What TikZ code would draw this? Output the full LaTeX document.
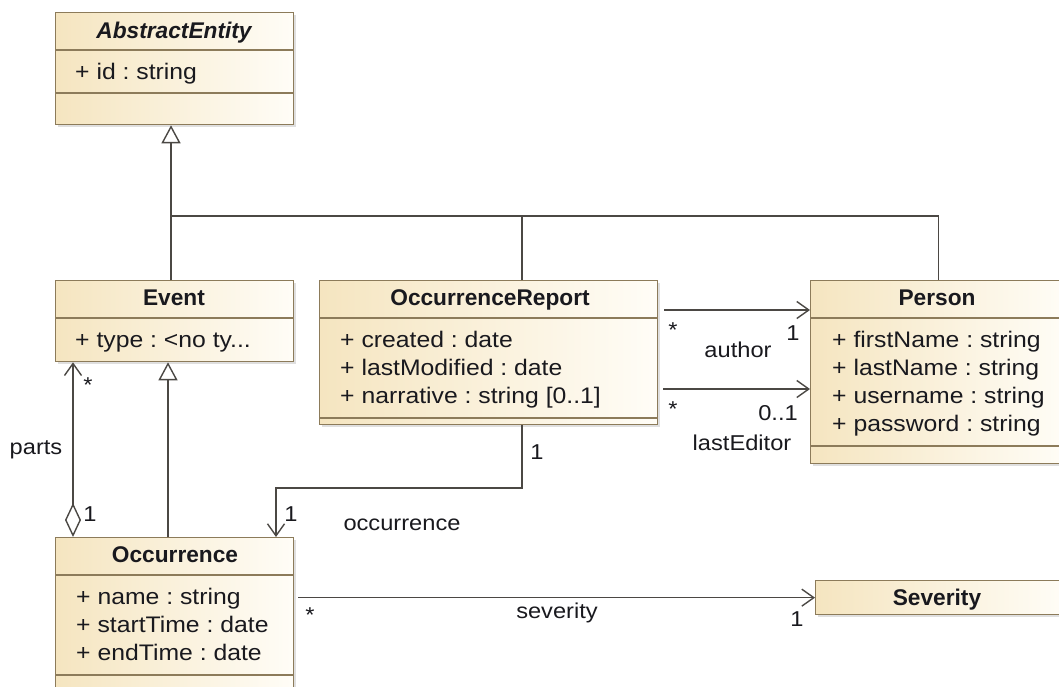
\documentclass[tikz,border=0pt]{standalone}
\usepackage{fontspec}
\setmainfont{Liberation Sans}
\newfontfamily\widefont{Liberation Sans}[FakeStretch=1.1]
\frenchspacing
\usetikzlibrary{arrows.meta,shadows}

\definecolor{clsleft}{RGB}{245,229,192}
\definecolor{clsright}{RGB}{255,253,247}
\definecolor{clsborder}{RGB}{140,123,90}
\definecolor{linegray}{RGB}{75,72,68}
\definecolor{txt}{RGB}{25,25,30}

\tikzset{
  umlclass/.style={draw=clsborder, line width=1.3pt, left color=clsleft, right color=clsright,
    anchor=north west, inner sep=0pt,
    drop shadow={shadow xshift=2.5pt, shadow yshift=-2.5pt, opacity=0.25}},
  cname/.style={font=\fontsize{22.7}{26}\selectfont\bfseries, text=txt, anchor=base, inner sep=0pt},
  attr/.style={font=\widefont\fontsize{22.5}{26}\selectfont, text=txt, anchor=base west, inner sep=0pt},
  lbl/.style={font=\widefont\fontsize{21.5}{25}\selectfont, text=txt, inner sep=0pt},
  sep/.style={draw=clsborder, line width=1.3pt},
  assoc/.style={draw=linegray, line width=1.4pt},
  gen/.style={assoc, -{Triangle[open, length=18pt, width=19pt]}},
  nav/.style={assoc, -{Straight Barb[length=12pt, width=17pt]}},
}

\begin{document}
\begin{tikzpicture}[x=1pt, y=-1pt]
  \useasboundingbox (0,0) rectangle (1059,687);
  \clip (0,0) rectangle (1059,687);

  % classes
  \node[umlclass, minimum width=238pt, minimum height=112pt] (abstract) at (55,12) {};
  \draw[sep] (55,50) -- (293,50);
  \draw[sep] (55,93) -- (293,93);
  \node[cname, font=\fontsize{22.7}{26}\selectfont\bfseries\itshape] (abstractT) at (174,39) {AbstractEntity};
  \node[attr] (abstractA) at (75,80) {+ id : string};

  \node[umlclass, minimum width=238pt, minimum height=81pt] (event) at (55,280) {};
  \draw[sep] (55,318) -- (293,318);
  \node[cname] (eventT) at (174,305) {Event};
  \node[attr] (eventA) at (75,347) {+ type : <no ty...};

  \node[umlclass, minimum width=338pt, minimum height=144pt] (report) at (319,280) {};
  \draw[sep] (319,318) -- (657,318);
  \draw[sep] (319,418) -- (657,418);
  \node[cname] (reportT) at (490,305) {OccurrenceReport};
  \node[attr] (reportA) at (340,347) {+ created : date};
  \node[attr] (reportB) at (340,375) {+ lastModified : date};
  \node[attr] (reportC) at (340,403) {+ narrative : string [0..1]};

  \node[umlclass, minimum width=256pt, minimum height=183pt] (person) at (810,280) {};
  \draw[sep] (810,318) -- (1066,318);
  \draw[sep] (810,446) -- (1066,446);
  \node[cname] (personT) at (937,305) {Person};
  \node[attr] (personA) at (832,347) {+ firstName : string};
  \node[attr] (personB) at (832,375) {+ lastName : string};
  \node[attr] (personC) at (832,403) {+ username : string};
  \node[attr] (personD) at (832,431) {+ password : string};

  \node[umlclass, minimum width=238pt, minimum height=170pt] (occ) at (55,537) {};
  \draw[sep] (55,575) -- (293,575);
  \draw[sep] (55,675) -- (293,675);
  \node[cname] (occT) at (175,562) {Occurrence};
  \node[attr] (occA) at (76,604) {+ name : string};
  \node[attr] (occB) at (76,632) {+ startTime : date};
  \node[attr] (occC) at (76,660) {+ endTime : date};

  \node[umlclass, minimum width=250pt, minimum height=34pt] (severity) at (815,580) {};
  \node[cname] (severityT) at (937,605) {Severity};

  % generalizations
  \coordinate (hub) at (171,216);
  \coordinate (repjoin) at (522,216);
  \coordinate (genx) at (168,0);
  \draw[gen] (hub) -- (abstract.south -| hub);
  \draw[assoc] (event.north -| hub) -- (hub) -- (hub -| person.north) -- (person.north);
  \draw[assoc] (repjoin) -- (report.north -| repjoin);
  \draw[gen] (occ.north -| genx) -- (event.south -| genx);

  % associations
  \coordinate (partsx) at (73,0);
  \draw[assoc, {Diamond[open, length=34pt, width=16pt]}-{Straight Barb[length=12pt, width=17pt]}]
    (occ.north -| partsx) -- (event.south -| partsx);
  \node[lbl] (partsL) at (36,450) {parts};
  \node[lbl] (partsM) at (88,385) {*};
  \node[lbl] (partsN) at (90,514) {1};

  \coordinate (rb) at (522,488);
  \coordinate (ob) at (276,488);
  \draw[nav] (report.south -| rb) -- (rb) -- (ob) -- (occ.north -| ob);
  \node[lbl] (occL) at (402,525) {occurrence};
  \node[lbl] (occM) at (537,452) {1};
  \node[lbl] (occN) at (291,514) {1};

  \coordinate (au) at (0,310);
  \coordinate (le) at (0,389);
  \draw[nav, shorten <=6pt] (report.east |- au) -- (person.west |- au);
  \draw[nav, shorten <=5pt] (report.east |- le) -- (person.west |- le);
  \node[lbl] (authorL) at (738,350) {author};
  \node[lbl] (authorM) at (673,330) {*};
  \node[lbl] (authorN) at (793,333) {1};
  \node[lbl] (editorL) at (742,443) {lastEditor};
  \node[lbl] (editorM) at (673,409) {*};
  \node[lbl] (editorN) at (778,413) {0..1};

  \draw[nav, shorten <=4pt] (occ.east |- severity.west) -- (severity.west);
  \node[lbl] (sevL) at (557,613) {severity};
  \node[lbl] (sevM) at (310,615) {*};
  \node[lbl] (sevN) at (797,619) {1};
\end{tikzpicture}
\end{document}
